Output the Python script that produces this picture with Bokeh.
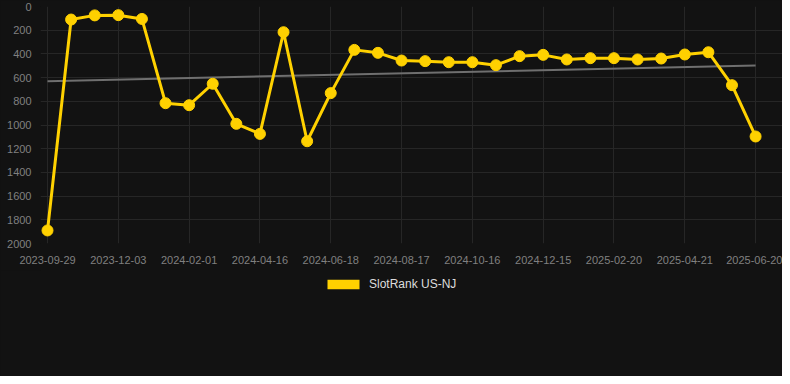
from bokeh.plotting import figure
from bokeh.layouts import column
from bokeh.models import Range1d, FixedTicker, Legend, LegendItem
from bokeh.embed import file_html
from bokeh.resources import INLINE

# ---- data ----
ranks = [1890, 110, 75, 73, 105, 816, 833, 652, 990, 1075, 217, 1137, 731,
         366, 391, 456, 461, 470, 470, 495, 419, 408, 447, 436, 436, 447,
         439, 405, 386, 664, 1097]
tick_labels = ["2023-09-29", "2023-12-03", "2024-02-01", "2024-04-16",
               "2024-06-18", "2024-08-17", "2024-10-16", "2024-12-15",
               "2025-02-20", "2025-04-21", "2025-06-20"]
tick_every = 3
trend_values = [630, 498]
series_name = "SlotRank US-NJ"

x_idx = list(range(len(ranks)))
tick_pos = [i * tick_every for i in range(len(tick_labels))]
trend_x = [x_idx[0], x_idx[-1]]

BG = "#121212"
GOLD = "#ffd100"
FONT = "Liberation Sans"

p = figure(output_backend="svg", toolbar_location=None,
           width=782, height=270,
           min_border_left=40, min_border_right=0, min_border_top=6,
           min_border_bottom=27,
           x_range=Range1d(-0.297, 31.14), y_range=Range1d(2000, 0))
p.background_fill_color = BG
p.border_fill_color = BG
p.outline_line_color = None
p.styles = {"background-color": BG}

p.xaxis.ticker = FixedTicker(ticks=tick_pos)
p.xaxis.major_label_overrides = {t: l for t, l in zip(tick_pos, tick_labels)}
p.yaxis.ticker = FixedTicker(ticks=list(range(0, 2001, 200)))
for ax in (p.xaxis, p.yaxis):
    ax.axis_line_color = None
    ax.major_tick_line_color = None
    ax.minor_tick_line_color = None
    ax.major_label_text_color = "#808080"
    ax.major_label_text_font = FONT
    ax.major_label_text_font_size = "11px"
p.yaxis.major_label_standoff = 3
p.xaxis.major_label_standoff = 6

p.xgrid.ticker = FixedTicker(ticks=tick_pos)
p.ygrid.ticker = FixedTicker(ticks=list(range(0, 2001, 200)))
p.grid.grid_line_color = "#262626"
p.grid.grid_line_width = 1

p.line(trend_x, trend_values, line_color="#6f6f6f", line_width=2)
p.line(x_idx, ranks, line_color=GOLD, line_width=3)
p.scatter(x_idx, ranks, size=11, fill_color=GOLD, line_color=GOLD)

# legend strip under the chart
q = figure(output_backend="svg", toolbar_location=None,
           width=782, height=106, min_border=0,
           x_axis_type=None, y_axis_type=None,
           x_range=Range1d(-0.297, 31.14), y_range=Range1d(2000, 0))
q.background_fill_color = BG
q.border_fill_color = BG
q.outline_line_color = None
q.grid.visible = False
q.styles = {"background-color": BG}
# zero-area quad: only gives the legend its filled box swatch
box = q.quad(left=x_idx[:1], right=x_idx[:1], top=ranks[:1], bottom=ranks[:1],
             fill_color=GOLD, line_color=None)
legend = Legend(items=[LegendItem(label=series_name, renderers=[box])],
                orientation="horizontal", location=(283, 85),
                background_fill_alpha=0, border_line_alpha=0,
                glyph_width=40, glyph_height=12, label_height=12,
                label_standoff=6,
                label_text_color="#dddddd", label_text_font=FONT,
                label_text_font_size="12px", padding=0, margin=0)
q.add_layout(legend, "center")

layout = column(p, q, spacing=0, styles={"background-color": BG})
open("out.html", "w").write(file_html(layout, INLINE))
